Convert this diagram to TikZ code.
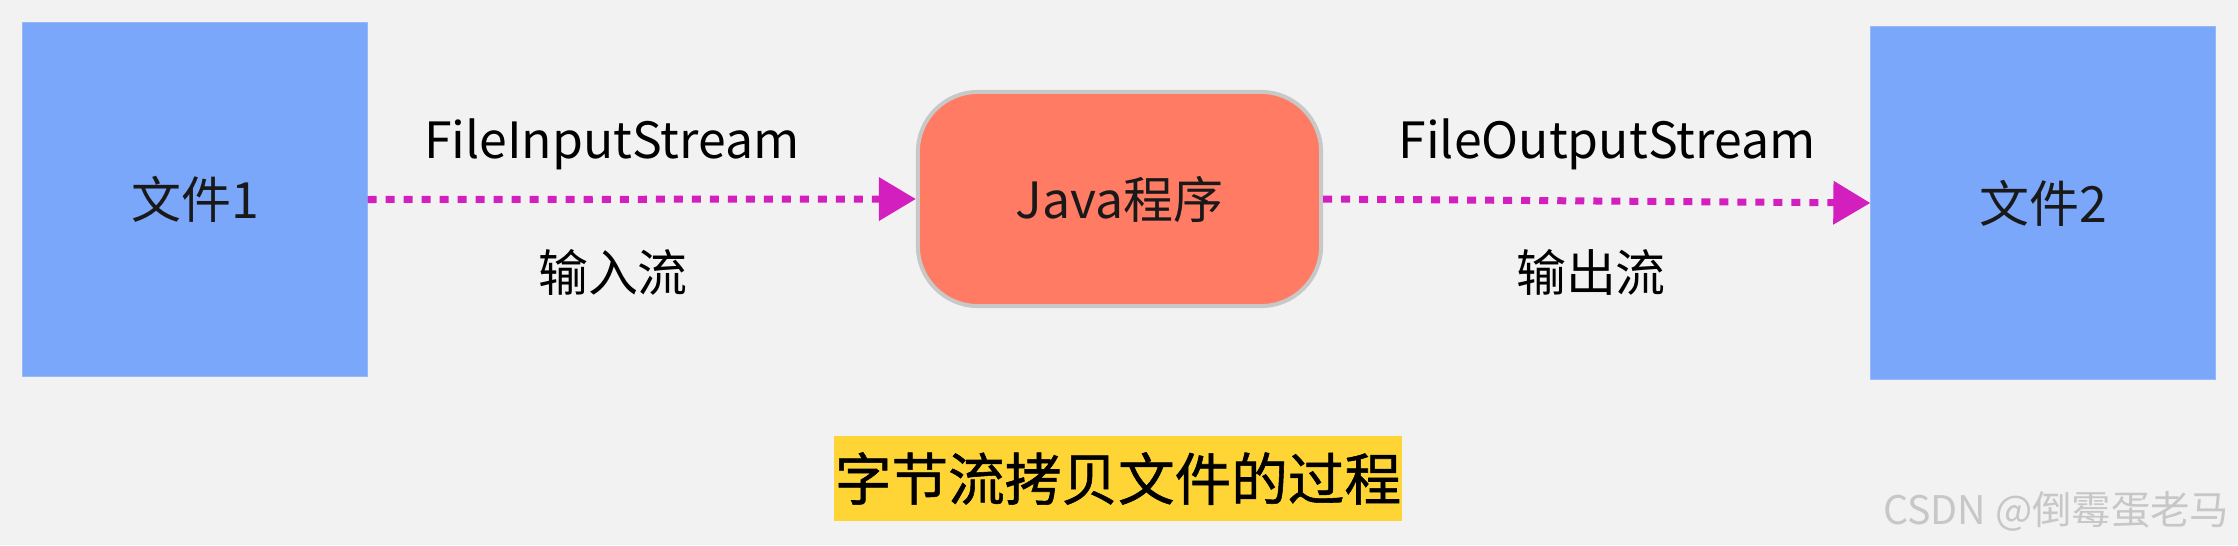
\documentclass[tikz,border=0pt]{standalone}
\usepackage{fontspec}
\setmainfont{Noto Sans CJK SC}
\newfontfamily\capfont[FakeBold=1]{Noto Sans CJK SC}
\usepackage{tikz}
\usetikzlibrary{arrows.meta, positioning, calc}
\usepackage{xcolor}
\definecolor{bgGray}{HTML}{F2F2F2}
\definecolor{fileBlue}{HTML}{7BA7FA}
\definecolor{progRed}{HTML}{FF7B63}
\definecolor{progEdge}{HTML}{C8C8C8}
\definecolor{flowPink}{HTML}{D41FBF}
\definecolor{titleYellow}{HTML}{FFD535}
\newcommand{\bigtxt}{\fontsize{14.2pt}{16pt}\selectfont}

\tikzset{
    filebox/.style={fill=fileBlue, draw=fileBlue!80!white, line width=0.3pt, minimum width=3.44cm, minimum height=3.53cm, font=\bigtxt, text=black!90},
    progbox/.style={fill=progRed, draw=progEdge, line width=0.04cm, rounded corners=0.6cm, minimum width=4.03cm, minimum height=2.14cm, font=\bigtxt, text=black!90},
    flow/.style={draw=flowPink, line width=0.07cm, dash pattern=on 0.09cm off 0.09cm, -{Triangle[length=0.37cm, width=0.42cm]}},
    flowtxt/.style={font=\bigtxt, text=black}
}

\begin{document}
\begin{tikzpicture}[x=0.01cm, y=-0.01cm]
        % Background
        \fill[bgGray] (0,0) rectangle (2238,545);
        \useasboundingbox (0,0) rectangle (2238,545);

        % Files and program
        \node[filebox] (file1) at (195, 199.5) {文件1};
        \node[progbox] (java) at (1119.5, 199) {Java程序};
        \node[filebox] (file2) at (2043, 203) {文件2};

        % Streams
        \draw[flow] (file1.east) -- (java.west);
        \draw[flow] (java.east) -- (file2.west);
        \node[flowtxt] (instream) at (612, 144) {FileInputStream};
        \node[flowtxt] (inname) at (613, 272) {输入流};
        \node[flowtxt] (outstream) at (1607, 144) {FileOutputStream};
        \node[flowtxt] (outname) at (1591, 272) {输出流};

        % Caption
        \node[fill=titleYellow, minimum width=5.68cm, minimum height=0.85cm, inner sep=0pt, font=\capfont\fontsize{16.1pt}{18pt}\selectfont] (caption) at (1118, 478.5) {字节流拷贝文件的过程};

        % Watermark
        \node[text=black!22, font=\fontsize{11.2pt}{13pt}\selectfont, anchor=east, inner sep=0pt] (mark) at (2230, 511) {CSDN @倒霉蛋老马};
\end{tikzpicture}
\end{document}
